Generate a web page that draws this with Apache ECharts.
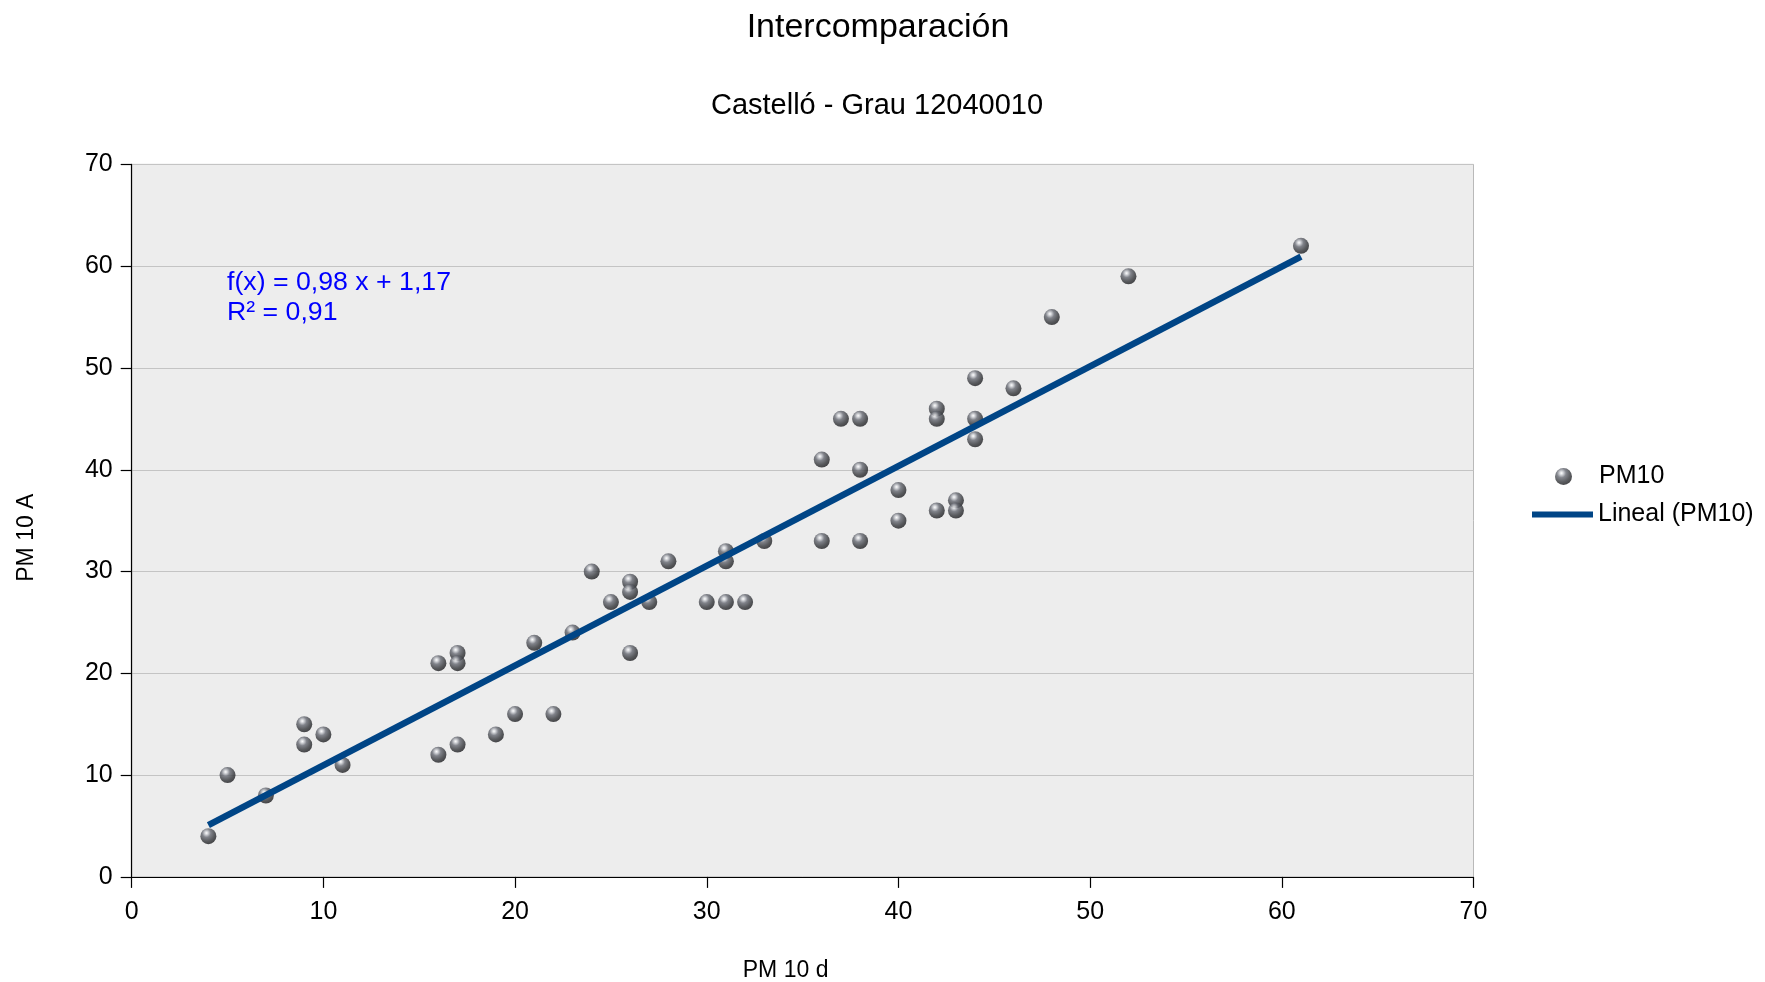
<!DOCTYPE html>
<html>
<head>
<meta charset="utf-8">
<script src="https://cdn.jsdelivr.net/npm/echarts@6/dist/echarts.min.js"></script>
<style>
html,body{margin:0;padding:0;background:#fff;}
#chart{width:1765px;height:982px;}
</style>
</head>
<body>
<div id="chart"></div>
<script>
// ---- data ----
const pm10d = [4,5,7,9,9,10,11,16,16,17,17,17,19,20,21,22,23,24,25,26,26,26,27,28,30,31,31,31,32,33,36,36,37,38,38,38,40,40,42,42,42,43,43,44,44,44,46,48,52,61];
const pm10A = [4,10,8,15,13,14,11,21,12,22,21,13,14,16,23,16,24,30,27,29,28,22,27,31,27,32,31,27,27,33,41,33,45,45,40,33,38,35,46,45,36,37,36,49,45,43,48,55,59,62];
const trendSlope = 0.98;      // from "f(x) = 0,98 x + 1,17"
const trendIntercept = 1.17;
const titleText = 'Intercomparación';
const subtitleText = 'Castelló - Grau 12040010';
const eqLines = ['f(x) = 0,98 x + 1,17', 'R² = 0,91'];
const seriesNames = ['PM10', 'Lineal (PM10)'];
const xName = 'PM 10 d';
const yName = 'PM 10 A';

const points = pm10d.map((x, i) => [x, pm10A[i]]);
const xMin = Math.min(...pm10d), xMax = Math.max(...pm10d);
const trend = [xMin, xMax].map(x => [x, trendSlope * x + trendIntercept]);

const FONT = '"Liberation Sans", Arial, sans-serif';
const sphere = {
  type: 'radial', x: 0.38, y: 0.3, r: 0.75,
  colorStops: [
    {offset: 0, color: '#ffffff'},
    {offset: 0.12, color: '#d2d4d9'},
    {offset: 0.36, color: '#656871'},
    {offset: 0.7, color: '#333539'},
    {offset: 1, color: '#161619'}
  ]
};

const chart = echarts.init(document.getElementById('chart'), null, {renderer: 'canvas'});
chart.setOption({
  animation: false,
  backgroundColor: '#ffffff',
  grid: {
    left: 131.7, right: 291.5, top: 164.4, bottom: 105.1,
    outerBoundsMode: 'none', containLabel: false,
    show: true, backgroundColor: '#ededed', borderColor: '#b9b9b9', borderWidth: 1
  },
  xAxis: {
    type: 'value', min: 0, max: 70, interval: 10,
    name: xName, nameLocation: 'middle', nameGap: 82,
    nameTextStyle: {fontFamily: FONT, fontSize: 23, color: '#000', padding: [0, 34, 0, 0]},
    axisLine: {show: true, onZero: false, lineStyle: {color: '#000', width: 1.2}},
    axisTick: {show: true, inside: false, length: 11, lineStyle: {color: '#000', width: 1.2}},
    axisLabel: {fontFamily: FONT, fontSize: 25, color: '#000', margin: 23},
    splitLine: {show: false}
  },
  yAxis: {
    type: 'value', min: 0, max: 70, interval: 10,
    name: yName, nameLocation: 'middle', nameGap: 94,
    nameTextStyle: {fontFamily: FONT, fontSize: 23, color: '#000', padding: [0, 34, 0, 0]},
    axisLine: {show: true, onZero: false, lineStyle: {color: '#000', width: 1.2}},
    axisTick: {show: true, inside: false, length: 11, lineStyle: {color: '#000', width: 1.2}},
    axisLabel: {fontFamily: FONT, fontSize: 25, color: '#000', margin: 19, padding: [2, 0, 0, 0]},
    splitLine: {show: true, lineStyle: {color: '#c4c4c4', width: 1.2}}
  },
  legend: [
    {
      data: [seriesNames[0]], left: 1555, top: 464, orient: 'vertical',
      itemWidth: 61, itemHeight: 17, padding: 0,
      textStyle: {fontFamily: FONT, fontSize: 25, color: '#000'}
    },
    {
      data: [{name: seriesNames[1], icon: 'rect'}], left: 1532, top: 502, orient: 'vertical',
      itemWidth: 61, itemHeight: 6, padding: 0,
      itemStyle: {color: '#004586'},
      textStyle: {fontFamily: FONT, fontSize: 25, color: '#000'}
    }
  ],
  graphic: [
    {type: 'text', x: 878, y: 28, z: 10,
     style: {text: titleText, font: '34px ' + FONT, fill: '#000', align: 'center', verticalAlign: 'middle'}},
    {type: 'text', x: 877, y: 106, z: 10,
     style: {text: subtitleText, font: '29px ' + FONT, fill: '#000', align: 'center', verticalAlign: 'middle'}},
    {type: 'text', x: 227, y: 283, z: 10,
     style: {text: eqLines[0], font: '26.7px ' + FONT, fill: '#0000ff', align: 'left', verticalAlign: 'middle'}},
    {type: 'text', x: 227, y: 313, z: 10,
     style: {text: eqLines[1], font: '26.7px ' + FONT, fill: '#0000ff', align: 'left', verticalAlign: 'middle'}}
  ],
  series: [
    {
      name: seriesNames[0], type: 'scatter', data: points,
      symbol: 'circle', symbolSize: 16, z: 3,
      itemStyle: {color: sphere}
    },
    {
      name: seriesNames[1], type: 'line', data: trend,
      symbol: 'none', showSymbol: false, z: 4,
      lineStyle: {color: '#004586', width: 6.5},
      itemStyle: {color: '#004586'}
    }
  ]
});
</script>
</body>
</html>
